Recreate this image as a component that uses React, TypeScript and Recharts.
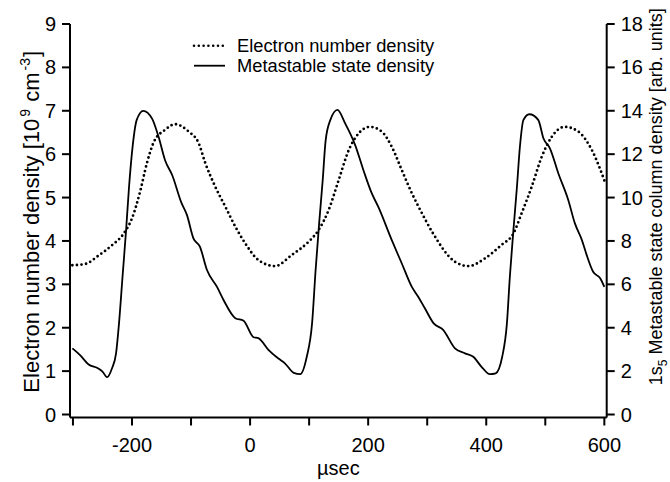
import React from 'react';
import { LineChart, Line, XAxis, YAxis, Legend, Label } from 'recharts';

// Electron number density [10^9 cm^-3] (left axis)
const electronTime = [-301, -279, -257, -234, -214, -200, -186, -175, -163, -144, -127, -104, -87, -76, -59, -42, -25, -8, 14, 42, 71, 99, 116, 133, 150, 167, 184, 203, 223, 240, 257, 274, 291, 310, 347, 370, 398, 426, 446, 460, 477, 494, 511, 533, 556, 579, 601];
const electronDensity = [3.44, 3.47, 3.66, 3.9, 4.17, 4.52, 5.15, 5.78, 6.28, 6.56, 6.69, 6.52, 6.25, 5.8, 5.25, 4.79, 4.33, 3.94, 3.56, 3.42, 3.68, 3.98, 4.25, 4.71, 5.4, 6.09, 6.48, 6.63, 6.52, 6.17, 5.63, 5.1, 4.64, 4.17, 3.52, 3.42, 3.6, 3.91, 4.17, 4.64, 5.25, 5.94, 6.4, 6.63, 6.52, 6.09, 5.36];

// 1s5 metastable state column density [arb. units] (right axis)
const metastableTime = [-301, -288, -274, -257, -250, -242, -234, -227, -222, -216, -210, -205, -199, -192, -181, -166, -155, -144, -132, -116, -107, -96, -85, -73, -56, -45, -25, -11, 6, 14, 31, 48, 59, 74, 85, 96, 105, 111, 117, 123, 128, 136, 148, 161, 178, 192, 206, 217, 240, 257, 274, 285, 296, 311, 327, 347, 364, 378, 392, 406, 416, 427, 435, 440, 446, 452, 457, 463, 473, 488, 497, 508, 522, 539, 550, 562, 570, 581, 593, 600];
const metastableDensity = [3.05, 2.74, 2.32, 2.12, 1.98, 1.72, 2.12, 2.82, 4.2, 6.36, 8.5, 10.5, 12.34, 13.58, 14.0, 13.64, 12.8, 11.72, 11.04, 9.74, 9.2, 8.12, 7.74, 6.66, 5.88, 5.28, 4.44, 4.32, 3.56, 3.52, 2.98, 2.58, 2.36, 1.92, 1.86, 2.66, 4.2, 6.66, 8.82, 10.8, 12.64, 13.58, 14.04, 13.42, 12.42, 11.26, 10.2, 9.58, 8.04, 6.96, 5.88, 5.42, 4.9, 4.2, 3.9, 3.05, 2.82, 2.66, 2.2, 1.86, 1.9, 2.66, 4.2, 6.36, 8.5, 10.5, 12.34, 13.58, 13.84, 13.58, 12.72, 12.26, 11.12, 9.88, 8.82, 8.04, 7.36, 6.58, 6.28, 5.88];

const xTicks = [-300, -200, -100, 0, 100, 200, 300, 400, 500, 600];
const leftTicks = [0, 1, 2, 3, 4, 5, 6, 7, 8, 9];
const rightTicks = [0, 2, 4, 6, 8, 10, 12, 14, 16, 18];
const legendLabels = ['Electron number density', 'Metastable state density'];

const electronData = electronTime.map((t, i) => ({ t, v: electronDensity[i] }));
const metastableData = metastableTime.map((t, i) => ({ t, v: metastableDensity[i] }));

const FONT = '"Liberation Sans", Arial, sans-serif';
const tickStyle = { fontSize: 20, fill: '#000', fontFamily: FONT };

const LeftTitle = (props: any) => {
  const vb = props.viewBox || { x: 0, y: 0, width: 70, height: 390 };
  const cx = vb.x + 38.5;
  const cy = vb.y + vb.height / 2 + 1;
  return (
    <text transform={`translate(${cx},${cy}) rotate(-90)`} textAnchor="middle" fontSize={22} fontFamily={FONT} fill="#000">
      Electron number density [10
      <tspan dy={-9} dx={2} fontSize={14}>9</tspan>
      <tspan dy={9} dx={1}> cm</tspan>
      <tspan dy={-9} dx={2} fontSize={14}>-3</tspan>
      <tspan dy={9} dx={1}>]</tspan>
    </text>
  );
};

const RightTitle = (props: any) => {
  const vb = props.viewBox || { x: 607, y: 24, width: 63, height: 390 };
  const cx = vb.x + 55;
  const cy = vb.y + vb.height / 2 - 24;
  return (
    <text transform={`translate(${cx},${cy}) rotate(-90)`} textAnchor="middle" fontSize={18} fontFamily={FONT} fill="#000">
      1s
      <tspan dy={5} fontSize={12}>5</tspan>
      <tspan dy={-5}> Metastable state column density [arb. units]</tspan>
    </text>
  );
};

const XTitle = (props: any) => {
  const vb = props.viewBox || { x: 70, y: 417, width: 537, height: 65 };
  return (
    <text x={vb.x + vb.width / 2} y={vb.y + 57} textAnchor="middle" fontSize={20} fontFamily={FONT} fill="#000">
      µsec
    </text>
  );
};

const renderLegend = () => (
  <svg width={270} height={44} style={{ display: 'block' }}>
    <line x1={4} y1={11.7} x2={34} y2={11.7} stroke="#000" strokeWidth={2.6} strokeDasharray="0 4.8" strokeLinecap="round" />
    <text x={47} y={17.7} fontSize={18.3} fontFamily={FONT} fill="#000">{legendLabels[0]}</text>
    <line x1={4} y1={31.7} x2={35} y2={31.7} stroke="#000" strokeWidth={1.8} />
    <text x={47} y={37.7} fontSize={18.3} fontFamily={FONT} fill="#000">{legendLabels[1]}</text>
  </svg>
);

export default function App() {
  return (
    <div style={{ position: 'absolute', left: 0, top: 0, width: 670, height: 482, background: '#fff' }}>
      <LineChart width={670} height={482} margin={{ top: 24, right: 0, bottom: 0, left: 0 }}>
        <XAxis
          type="number"
          dataKey="t"
          domain={[-305, 604]}
          ticks={xTicks}
          allowDataOverflow
          tickFormatter={(v: number) => (v % 200 === 0 ? String(v) : '')}
          tick={tickStyle}
          tickSize={8}
          tickMargin={12}
          height={64.5}
          axisLine={{ stroke: '#000', strokeWidth: 2 }}
          tickLine={{ stroke: '#000', strokeWidth: 2 }}
        >
          <Label content={<XTitle />} />
        </XAxis>
        <YAxis
          yAxisId="left"
          orientation="left"
          domain={[-0.069, 9]}
          ticks={leftTicks}
          allowDataOverflow
          width={70}
          tick={tickStyle}
          tickSize={8}
          tickMargin={6}
          axisLine={{ stroke: '#000', strokeWidth: 2 }}
          tickLine={{ stroke: '#000', strokeWidth: 2 }}
        >
          <Label content={<LeftTitle />} />
        </YAxis>
        <YAxis
          yAxisId="right"
          orientation="right"
          domain={[-0.138, 18]}
          ticks={rightTicks}
          allowDataOverflow
          width={63.3}
          tick={tickStyle}
          tickSize={8}
          tickMargin={6}
          axisLine={{ stroke: '#000', strokeWidth: 2 }}
          tickLine={{ stroke: '#000', strokeWidth: 2 }}
        >
          <Label content={<RightTitle />} />
        </YAxis>
        <Legend
          layout="vertical"
          align="center"
          verticalAlign="middle"
          wrapperStyle={{ left: 190, top: 34, width: 270, height: 44 }}
          content={renderLegend}
        />
        <Line
          yAxisId="left"
          data={electronData}
          dataKey="v"
          type="monotone"
          stroke="#000"
          strokeWidth={2.8}
          strokeDasharray="0 4.6"
          strokeLinecap="round"
          dot={false}
          activeDot={false}
          isAnimationActive={false}
        />
        <Line
          yAxisId="right"
          data={metastableData}
          dataKey="v"
          type="monotone"
          stroke="#000"
          strokeWidth={1.8}
          dot={false}
          activeDot={false}
          isAnimationActive={false}
        />
      </LineChart>
    </div>
  );
}
